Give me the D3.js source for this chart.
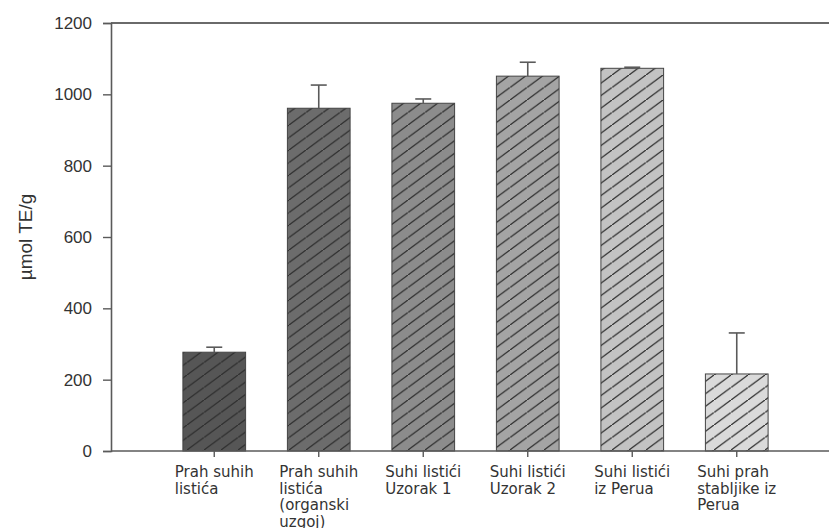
<!DOCTYPE html>
<html>
<head>
<meta charset="utf-8">
<script src="https://cdn.jsdelivr.net/npm/d3@7"></script>
<style>
  html, body { margin: 0; padding: 0; background: #ffffff; }
  svg { display: block; }
</style>
</head>
<body>
<div id="chart"></div>
<script>
// category labels, split into lines as in the original
const categories = [
    ["Prah suhih", "listića"],
    ["Prah suhih", "listića", "(organski", "uzgoj)"],
    ["Suhi listići", "Uzorak 1"],
    ["Suhi listići", "Uzorak 2"],
    ["Suhi listići", "iz Perua"],
    ["Suhi prah", "stabljike iz", "Perua"]
];
const values = [277, 961, 975, 1051, 1073, 216];
const errors = [14, 65, 12, 39, 3, 115];
const barFills = ["#565656", "#6c6c6c", "#8c8c8c", "#a4a4a4", "#c3c3c3", "#dadada"];
const yTicks = [0, 200, 400, 600, 800, 1000, 1200];

const width = 829;
const height = 528;

const svg = d3.select("#chart")
    .append("svg")
    .attr("width", width)
    .attr("height", height);

// diagonal hatch pattern ("/"), one line per tile from bottom-left to top-right
const hw = 17, hh = 12.5;
const defs = svg.append("defs");
defs.append("pattern")
    .attr("id", "hatch")
    .attr("patternUnits", "userSpaceOnUse")
    .attr("width", hw)
    .attr("height", hh)
    .append("line")
    .attr("x1", -1).attr("y1", hh + hh / hw)
    .attr("x2", hw + 1).attr("y2", -hh / hw)
    .attr("stroke", "#2e2e2e")
    .attr("stroke-width", 1.3);

const ids = categories.map((c, i) => "c" + i);

const x = d3.scaleBand()
    .domain(ids)
    .range([162, 789])
    .paddingInner(0.4)
    .paddingOuter(0.2);

const y = d3.scaleLinear()
    .domain([0, 1200])
    .range([451, 23]);

const axisColor = "#5a5a5a";

// bars
const bars = svg.append("g");
ids.forEach((id, i) => {
    bars.append("rect")
        .attr("x", x(id))
        .attr("y", y(values[i]))
        .attr("width", x.bandwidth())
        .attr("height", y(0) - y(values[i]))
        .attr("fill", barFills[i]);
    bars.append("rect")
        .attr("x", x(id))
        .attr("y", y(values[i]))
        .attr("width", x.bandwidth())
        .attr("height", y(0) - y(values[i]))
        .attr("fill", "url(#hatch)")
        .attr("stroke", "#444")
        .attr("stroke-width", 1);

    // upper error bar
    const cx = x(id) + x.bandwidth() / 2;
    bars.append("line")
        .attr("x1", cx).attr("x2", cx)
        .attr("y1", y(values[i]))
        .attr("y2", y(values[i] + errors[i]))
        .attr("stroke", axisColor)
        .attr("stroke-width", 1.6);
    bars.append("line")
        .attr("x1", cx - 8).attr("x2", cx + 8)
        .attr("y1", y(values[i] + errors[i]))
        .attr("y2", y(values[i] + errors[i]))
        .attr("stroke", axisColor)
        .attr("stroke-width", 1.6);
});

// top frame line
svg.append("line")
    .attr("x1", 111).attr("x2", width)
    .attr("y1", y(1200)).attr("y2", y(1200))
    .attr("stroke", "#6a6a6a")
    .attr("stroke-width", 2);

// y axis
const yAxis = svg.append("g")
    .attr("transform", "translate(111,0)")
    .call(d3.axisLeft(y).tickValues(yTicks).tickFormat(d3.format("d")).tickSize(8).tickPadding(11));
yAxis.select(".domain").attr("stroke", axisColor).attr("stroke-width", 1.6);
yAxis.selectAll(".tick line").attr("stroke", axisColor).attr("stroke-width", 1.4);
yAxis.selectAll(".tick text")
    .attr("fill", "#333")
    .style("font-family", "'Liberation Sans', Arial, sans-serif")
    .style("font-size", "17px");

// x axis line across the plot
svg.append("line")
    .attr("x1", 111).attr("x2", width)
    .attr("y1", y(0)).attr("y2", y(0))
    .attr("stroke", axisColor)
    .attr("stroke-width", 1.6);

// x ticks and labels
const xg = svg.append("g");
ids.forEach((id, i) => {
    const cx = x(id) + x.bandwidth() / 2;
    xg.append("line")
        .attr("x1", cx).attr("x2", cx)
        .attr("y1", y(0)).attr("y2", y(0) + 6)
        .attr("stroke", axisColor)
        .attr("stroke-width", 1.4);

    const label = xg.append("text")
        .attr("fill", "#333")
        .style("font-family", "'DejaVu Sans', Verdana, sans-serif")
        .style("font-size", "15px");
    categories[i].forEach((line, j) => {
        label.append("tspan")
            .attr("x", 0)
            .attr("y", 477 + j * 16.5)
            .text(line);
    });
    // left-aligned block centred on the tick
    const w = label.node().getBBox().width;
    label.attr("transform", `translate(${cx - w / 2},0)`);
});

// y axis title
svg.append("text")
    .attr("transform", `translate(32,${y(600)}) rotate(-90)`)
    .attr("text-anchor", "middle")
    .attr("fill", "#333")
    .style("font-family", "'Liberation Sans', Arial, sans-serif")
    .style("font-size", "19px")
    .text("µmol TE/g");
</script>
</body>
</html>
